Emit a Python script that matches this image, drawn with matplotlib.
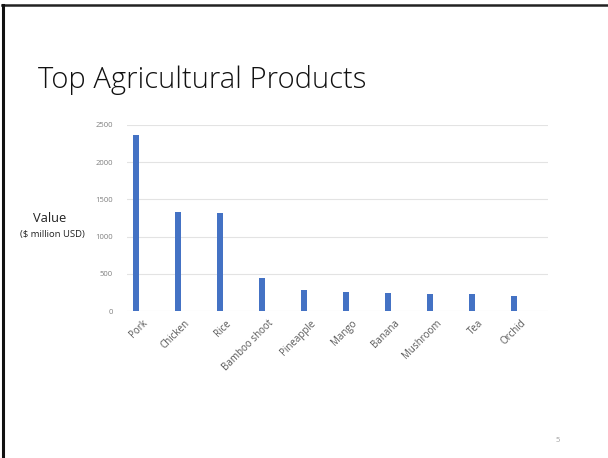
import matplotlib
matplotlib.use("Agg")
import matplotlib.pyplot as plt
from matplotlib.lines import Line2D
from matplotlib.transforms import ScaledTranslation

categories = ["Pork", "Chicken", "Rice", "Bamboo shoot", "Pineapple",
              "Mango", "Banana", "Mushroom", "Tea", "Orchid"]
values = [2370, 1335, 1322, 448, 286, 250, 237, 228, 226, 201]
yticks = [0, 500, 1000, 1500, 2000, 2500]

fig = plt.figure(figsize=(6.08, 4.58), dpi=100)
fig.patch.set_facecolor("white")

# slide border (top and left visible)
fig.add_artist(Line2D([0.004, 1.0], [1 - 5 / 458, 1 - 5 / 458], color="#222222", lw=1.8, transform=fig.transFigure))
fig.add_artist(Line2D([3 / 608, 3 / 608], [1 - 5 / 458, 0], color="#111111", lw=2.2, transform=fig.transFigure))

ax = fig.add_axes([127 / 608, 1 - 311 / 458, 421 / 608, 186 / 458])
x = list(range(len(categories)))
ax.bar(x, values, width=0.14, color="#4472C4", zorder=3)
ax.set_xlim(-0.214, 9.81)
ax.set_ylim(0, 2500)
ax.set_yticks(yticks)
ax.set_yticklabels([str(v) for v in yticks], fontsize=5.5, color="#7f7f7f", family="Open Sans")
ax.set_xticks(x)
ax.set_xticklabels(categories, rotation=45, ha="right", rotation_mode="anchor",
                   fontsize=7, color="#595959", family="Open Sans")
ax.tick_params(axis="y", length=0, pad=10)
ax.tick_params(axis="x", length=0, pad=5)
offset = ScaledTranslation(6 / 100, 0, fig.dpi_scale_trans)
for lab in ax.get_xticklabels():
    lab.set_transform(lab.get_transform() + offset)
ax.grid(axis="y", color="#e3e3e3", lw=0.8, zorder=0)
for s in ax.spines.values():
    s.set_visible(False)

fig.text(38 / 608, 1 - 88 / 458, "Top Agricultural Products", fontsize=21,
         family="Open Sans", fontweight="light", color="#111111", ha="left", va="baseline")
fig.text(50 / 608, 1 - 218 / 458, "Value", fontsize=9.3, family="Open Sans",
         color="#222222", ha="center", va="center")
fig.text(52 / 608, 1 - 235 / 458, "($ million USD)", fontsize=6.8, family="Open Sans",
         color="#222222", ha="center", va="center")
fig.text(558 / 608, 1 - 441 / 458, "5", fontsize=5.5, family="Open Sans",
         color="#a0a0a0", ha="center", va="center")

fig.savefig("out.png", dpi=100)
